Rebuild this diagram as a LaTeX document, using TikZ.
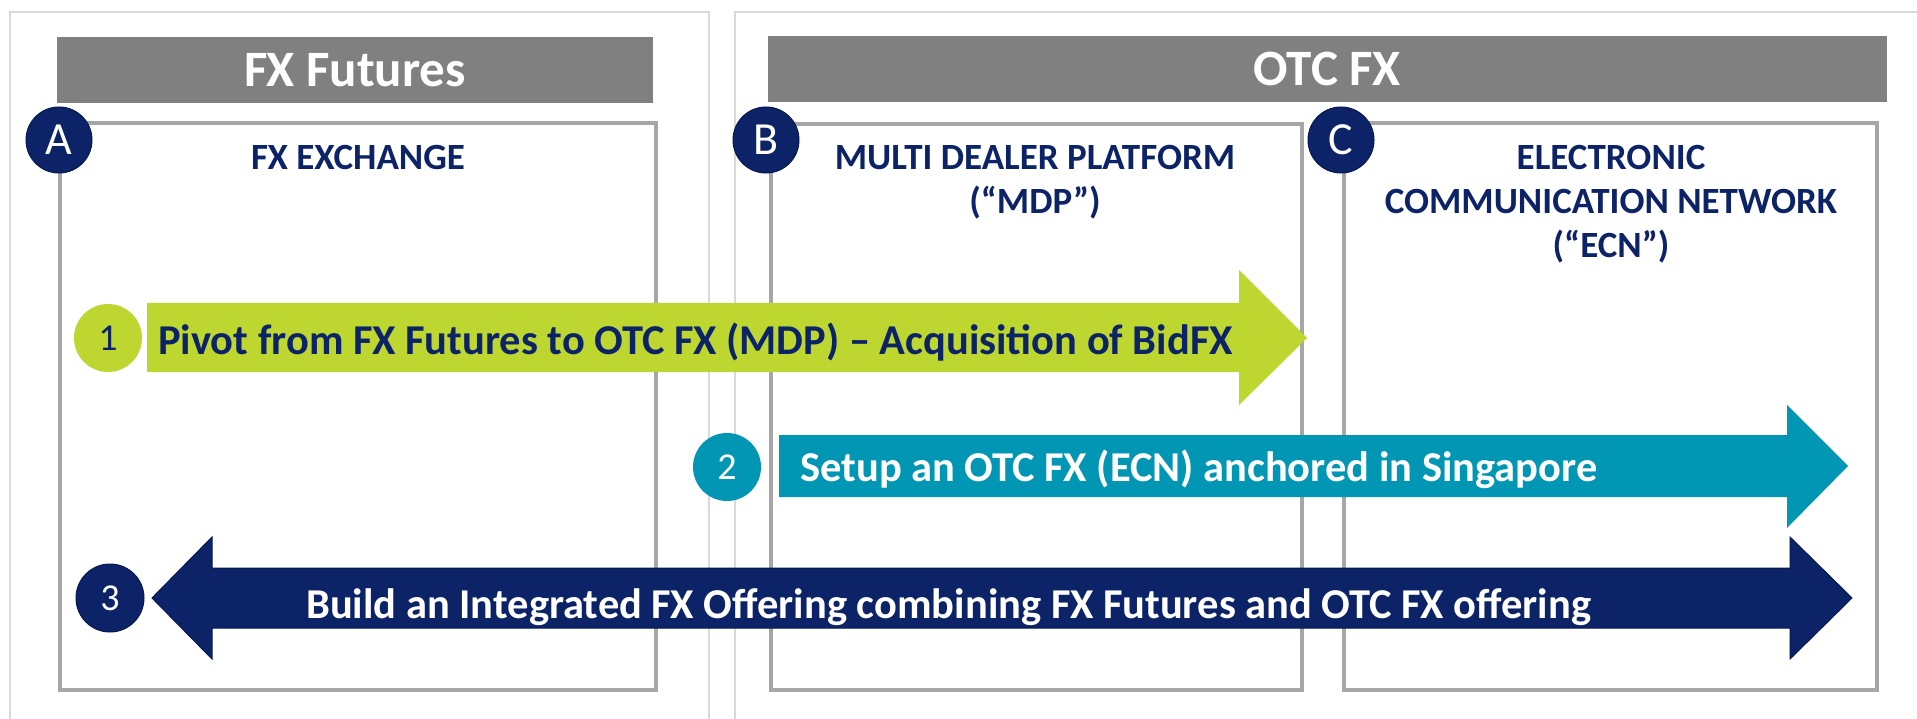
\documentclass[tikz,border=0pt]{standalone}
\usepackage{fontspec}
\setmainfont{Carlito}

\definecolor{navy}{RGB}{12,35,104}
\definecolor{navydark}{RGB}{6,24,80}
\definecolor{limegreen}{RGB}{190,215,48}
\definecolor{teal}{RGB}{0,150,180}
\definecolor{bannergray}{RGB}{128,128,128}
\definecolor{boxgray}{RGB}{166,166,166}
\definecolor{panelgray}{RGB}{217,217,217}

\tikzset{
  panel/.style={draw=panelgray, line width=2pt},
  zone/.style={draw=boxgray, line width=3.5pt},
  headtext/.style={text=white, inner sep=0pt, font=\bfseries\fontsize{51}{60}\selectfont},
  zonetitle/.style={anchor=north, align=center, text=navy, inner sep=0pt, font=\bfseries\fontsize{37}{44}\selectfont},
  tag/.style={circle, fill=navy, draw=navydark, line width=1pt, text=white, minimum size=66pt, inner sep=0pt, font=\fontsize{46}{46}\selectfont},
  num/.style={circle, minimum size=68pt, inner sep=0pt, font=\fontsize{38}{38}\selectfont},
  arrowtext/.style={anchor=base west, inner sep=0pt, font=\bfseries\fontsize{42.5}{50}\selectfont},
}

\begin{document}
\begin{tikzpicture}[x=1pt,y=-1pt]
  \useasboundingbox (0,0) rectangle (1917,719);
  \clip (0,0) rectangle (1917,719);

  % outer panels
  \draw[panel] (10,12) rectangle (709,760);
  \draw[panel] (735,12) rectangle (1940,760);

  % banners
  \fill[bannergray] (57,37) rectangle (653,103);
  \fill[bannergray] (768,36) rectangle (1887,102);
  \node[headtext] (futures) at (355,70) {FX Futures};
  \node[headtext] (otc) at (1327,69) {OTC FX};

  % boxes
  \draw[zone] (60,123) rectangle (656,690);
  \draw[zone] (771,124) rectangle (1302,690);
  \draw[zone] (1344,123) rectangle (1877,690);
  \node[zonetitle] (exchange) at (358,145) {FX EXCHANGE};
  \node[zonetitle] (mdp) at (1035,145) {MULTI DEALER PLATFORM\\(“MDP”)};
  \node[zonetitle] (ecn) at (1611,145) {ELECTRONIC\\COMMUNICATION NETWORK\\(“ECN”)};

  % arrows
  \fill[limegreen] (147,303) -- (1239,303) -- (1239,270) -- (1307,338) -- (1239,405) -- (1239,372) -- (147,372) -- cycle;
  \fill[teal] (779,435) -- (1787,435) -- (1787,405) -- (1848,466) -- (1787,528) -- (1787,497) -- (779,497) -- cycle;
  \filldraw[fill=navy, draw=navydark, line width=1pt] (152,598) -- (212,537) -- (212,568) -- (1790,568) -- (1790,537) -- (1852,598) -- (1790,659) -- (1790,628) -- (212,628) -- (212,659) -- cycle;

  \node[arrowtext, text=navy] (pivot) at (158,354) {Pivot from FX Futures to OTC FX (MDP) – Acquisition of BidFX};
  \node[arrowtext, text=white] (setup) at (800,481) {Setup an OTC FX (ECN) anchored in Singapore};
  \node[arrowtext, text=white] (build) at (306,618) {Build an Integrated FX Offering combining FX Futures and OTC FX offering};

  % markers
  \node[tag] (tagA) at (59,140) {A};
  \node[tag] (tagB) at (766,140) {B};
  \node[tag] (tagC) at (1341,140) {C};
  \node[num, fill=limegreen, text=navy] (step1) at (108,338) {1};
  \node[num, fill=teal, text=white] (step2) at (727,467) {2};
  \node[num, fill=navy, draw=navydark, line width=1pt, text=white] (step3) at (110,598) {3};
\end{tikzpicture}
\end{document}
